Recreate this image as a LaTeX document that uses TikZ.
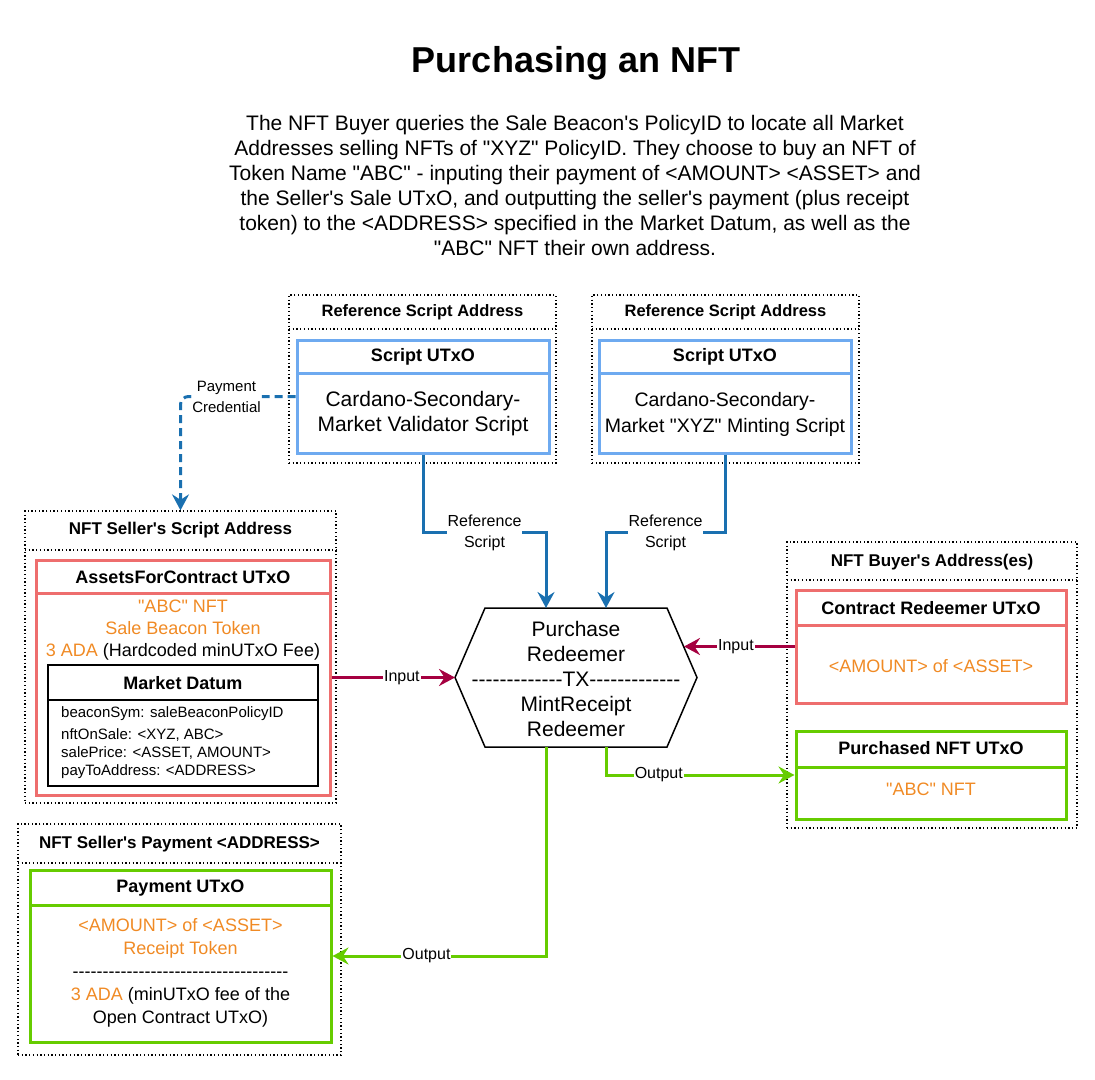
\documentclass[tikz,border=0pt]{standalone}
\usepackage{fontspec}
\setmainfont{Liberation Sans}[Ligatures=TeXOff]
\usetikzlibrary{arrows.meta,fit}
\definecolor{bluebox}{HTML}{6EAAF0}
\definecolor{redbox}{HTML}{EE6E6E}
\definecolor{greenbox}{HTML}{66CC00}
\definecolor{orangetxt}{HTML}{F08A24}
\definecolor{crimson}{HTML}{A50040}
\definecolor{linkblue}{HTML}{1A70B0}
\newcommand\fs[2]{\fontsize{#1}{#2}\selectfont}
\newcommand\org[1]{\textcolor{orangetxt}{#1}}
\begin{document}
\begin{tikzpicture}[x=1pt,y=-1pt,
  container/.style={draw=black, line width=1.3pt, dash pattern=on 1.3pt off 2.4pt, inner sep=0pt},
  divline/.style={line width=1.3pt, dash pattern=on 1.3pt off 2.4pt},
  utxo/.style={draw=#1, line width=3pt, inner sep=0pt},
  hdr/.style={font=\bfseries\fs{17}{20}, inner sep=0pt},
  btitle/.style={font=\bfseries\fs{18}{22}, inner sep=0pt},
  body/.style={font=\fs{18}{23}, align=center, inner sep=0pt},
  lbl/.style={font=\fs{16}{21}, fill=white, text=black, inner sep=1pt, align=center},
  arrowend/.style={-{Stealth[length=16pt,width=17pt,inset=5.5pt]}},
  conn/.style={line width=3pt, arrowend},
]
\useasboundingbox (0,0) rectangle (1095,1079);

% title and description
\node[font=\bfseries\fs{36}{43}, inner sep=0pt] (title) at (576,63) {Purchasing an NFT};
\node[font=\fs{21}{25}, align=center, inner sep=0pt] (desc) at (575,185) {The NFT Buyer queries the Sale Beacon's PolicyID to locate all Market\\Addresses selling NFTs of "XYZ" PolicyID. They choose to buy an NFT of\\Token Name "ABC" - inputing their payment of <AMOUNT> <ASSET> and\\the Seller's Sale UTxO, and outputting the seller's payment (plus receipt\\token) to the <ADDRESS> specified in the Market Datum, as well as the\\"ABC" NFT their own address.};

% Reference script address A
\node[container, fit={(289,295) (556,463)}] (refA) {};
\node[hdr, font=\bfseries\fs{16.5}{20}] (refAh) at (422.5,312) {Reference Script Address};
\draw[divline] (289,329) -- (556,329);
\node[utxo=bluebox, fit={(297,340) (549,453)}] (blueA) {};
\draw[bluebox, line width=3pt] (297,373) -- (549,373);
\node[btitle] (blueAh) at (423,356.5) {Script UTxO};
\node[body, font=\fs{21}{25}] (blueAb) at (423,414) {Cardano-Secondary-\\Market Validator Script};

% Reference script address B
\node[container, fit={(592,295) (859,463)}] (refB) {};
\node[hdr, font=\bfseries\fs{16.5}{20}] (refBh) at (725.5,312) {Reference Script Address};
\draw[divline] (592,329) -- (859,329);
\node[utxo=bluebox, fit={(599,340) (851,453)}] (blueB) {};
\draw[bluebox, line width=3pt] (599,373) -- (851,373);
\node[btitle] (blueBh) at (725,356.5) {Script UTxO};
\node[body, font=\fs{19.5}{26}] (blueBb) at (725,414) {Cardano-Secondary-\\Market "XYZ" Minting Script};

% Seller script address
\node[container, fit={(25,511) (336,803)}] (sellerC) {};
\node[hdr] (sellerCh) at (180.5,530) {NFT Seller's Script Address};
\draw[divline] (25,550) -- (336,550);
\node[utxo=redbox, fit={(36,560) (330,795)}] (pinkA) {};
\draw[redbox, line width=3pt] (36,593) -- (330,593);
\node[btitle] (pinkAh) at (183,577) {AssetsForContract UTxO};
\node[body, font=\fs{18}{22}] (pinkAb) at (183,630) {\org{"ABC" NFT}\\\org{Sale Beacon Token}\\\org{3 ADA} (Hardcoded minUTxO Fee)};
\node[draw=black, line width=1.5pt, inner sep=0pt, fit={(48,665) (318,786)}] (datum) {};
\draw[line width=1.5pt] (48,700) -- (318,700);
\node[btitle] (datumh) at (183,683) {Market Datum};
\node[font=\fs{15}{18}, align=left, anchor=west, inner sep=0pt] (datumb) at (61,743) {beaconSym: saleBeaconPolicyID\\[4pt]nftOnSale: <XYZ, ABC>\\salePrice: <ASSET, AMOUNT>\\payToAddress: <ADDRESS>};

% Buyer address
\node[container, fit={(787,542) (1077,828)}] (buyerC) {};
\node[hdr] (buyerCh) at (932,562) {NFT Buyer's Address(es)};
\draw[divline] (787,580) -- (1077,580);
\node[utxo=redbox, fit={(796,590) (1066,703)}] (redeem) {};
\draw[redbox, line width=3pt] (796,625) -- (1066,625);
\node[btitle] (redeemh) at (931,608) {Contract Redeemer UTxO};
\node[body] (redeemb) at (931,666) {\org{<AMOUNT> of <ASSET>}};
\node[utxo=greenbox, fit={(796,731) (1066,819)}] (purch) {};
\draw[greenbox, line width=3pt] (796,767) -- (1066,767);
\node[btitle] (purchh) at (931,748) {Purchased NFT UTxO};
\node[body] (purchb) at (931,789) {\org{"ABC" NFT}};

% Seller payment address
\node[container, fit={(18,824) (341,1055)}] (payC) {};
\node[hdr] (payCh) at (179.5,844) {NFT Seller's Payment <ADDRESS>};
\draw[divline] (18,863) -- (341,863);
\node[utxo=greenbox, fit={(30,870) (331,1042)}] (pay) {};
\draw[greenbox, line width=3pt] (30,905) -- (331,905);
\node[btitle] (payh) at (180.5,888) {Payment UTxO};
\node[body] (payb) at (180.5,973) {\org{<AMOUNT> of <ASSET>}\\\org{Receipt Token}\\------------------------------------\\\org{3 ADA} (minUTxO fee of the\\Open Contract UTxO)};

% Transaction hexagon
\draw[line width=1.5pt, fill=white] (455,677.5) -- (485,608) -- (667,608) -- (697,677.5) -- (667,747) -- (485,747) -- cycle;
\node[body, font=\fs{21}{25}] (hex) at (576,679) {Purchase\\Redeemer\\-------------TX-------------\\MintReceipt\\Redeemer};
\coordinate (hexT1) at (546,608);
\coordinate (hexT2) at (606,608);
\coordinate (hexL) at (455,677.5);
\coordinate (hexR) at (684,646.5);
\coordinate (hexB1) at (546,747);
\coordinate (hexB2) at (606,747);

% connectors
\draw[conn, linkblue] (blueA.south) -- ++(0,78) -| node[lbl, pos=0.25]{Reference\\Script} (hexT1);
\draw[conn, linkblue] (blueB.south) -- ++(0,78) -| node[lbl, pos=0.25]{Reference\\Script} (hexT2);
\draw[line width=3pt, linkblue, dash pattern=on 8pt off 5pt, rounded corners=8pt, arrowend] (blueA.west) -| node[lbl, font=\fs{15}{21}, pos=0.3]{Payment\\Credential} (sellerC.north);
\draw[conn, crimson] (pinkA.east) -- node[lbl, pos=0.57]{Input} (hexL);
\draw[conn, crimson] (redeem.west) -- node[lbl, pos=0.53]{Input} (hexR);
\draw[conn, greenbox] (hexB2) |- node[lbl, pos=0.64]{Output} (purch.west);
\draw[conn, greenbox] (hexB1) |- node[lbl, pos=0.78]{Output} (pay.east);
\end{tikzpicture}
\end{document}
